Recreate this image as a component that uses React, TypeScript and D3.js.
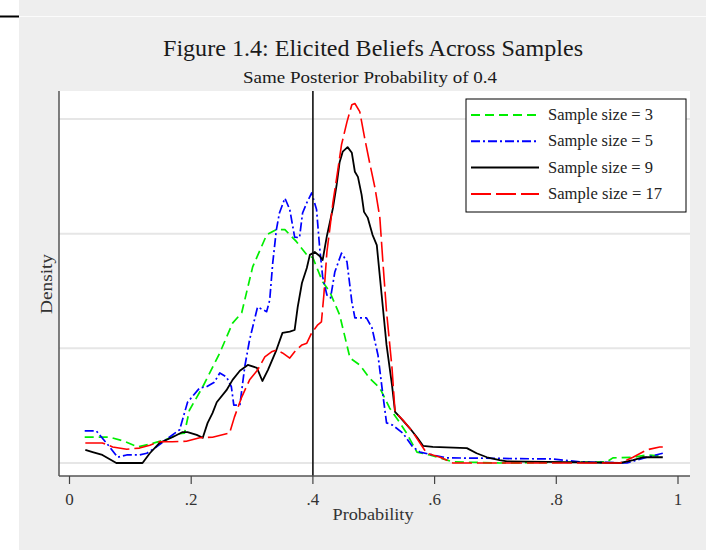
import React from "react";
import * as d3 from "d3";

const W = 706;
const H = 550;

const title = "Figure 1.4: Elicited Beliefs Across Samples";
const subtitle = "Same Posterior Probability of 0.4";
const xLabel = "Probability";
const yLabel = "Density";

const xTicks = [0, 0.2, 0.4, 0.6, 0.8, 1];
const xTickLabels = ["0", ".2", ".4", ".6", ".8", "1"];
const yGrid = [0, 2, 4, 6];
const posterior = 0.4;

const seriesNames = ["Sample size = 3", "Sample size = 5", "Sample size = 9", "Sample size = 17"];

// [probability, density]
const size3: [number, number][] = [
  [0.025, 0.45], [0.066, 0.45], [0.09, 0.38], [0.112, 0.28], [0.132, 0.33], [0.156, 0.4],
  [0.181, 0.51], [0.189, 0.52], [0.197, 0.92], [0.219, 1.33], [0.247, 1.92], [0.268, 2.44],
  [0.283, 2.62], [0.301, 3.42], [0.324, 3.98], [0.34, 4.07], [0.354, 4.07], [0.373, 3.86],
  [0.39, 3.63], [0.4, 3.58], [0.406, 3.42], [0.416, 3.16], [0.428, 2.98], [0.444, 2.58],
  [0.461, 1.83], [0.477, 1.71], [0.493, 1.48], [0.51, 1.31], [0.526, 0.96], [0.543, 0.7],
  [0.554, 0.52], [0.571, 0.19], [0.592, 0.14], [0.63, 0.02], [0.707, 0.0], [0.883, 0.02],
  [0.893, 0.09], [0.926, 0.1], [0.949, 0.14], [0.975, 0.12],
];

const size5: [number, number][] = [
  [0.025, 0.56], [0.044, 0.56], [0.066, 0.28], [0.079, 0.1], [0.094, 0.14], [0.115, 0.14],
  [0.127, 0.17], [0.143, 0.28], [0.164, 0.45], [0.181, 0.58], [0.194, 1.06], [0.214, 1.31],
  [0.225, 1.33], [0.238, 1.41], [0.247, 1.57], [0.258, 1.5], [0.266, 1.33], [0.27, 1.01],
  [0.28, 1.01], [0.288, 1.68], [0.296, 2.15], [0.309, 2.72], [0.324, 2.64], [0.329, 2.84],
  [0.334, 3.49], [0.34, 4.07], [0.345, 4.36], [0.354, 4.62], [0.362, 4.42], [0.37, 3.94],
  [0.378, 3.93], [0.383, 4.36], [0.39, 4.54], [0.398, 4.71], [0.406, 4.42], [0.411, 3.77],
  [0.416, 3.25], [0.423, 2.93], [0.429, 2.88], [0.436, 3.33], [0.447, 3.66], [0.456, 3.51],
  [0.464, 2.81], [0.469, 2.53], [0.488, 2.53], [0.497, 2.36], [0.507, 1.88], [0.515, 1.19],
  [0.521, 0.7], [0.531, 0.66], [0.548, 0.52], [0.564, 0.28], [0.576, 0.19], [0.597, 0.14],
  [0.62, 0.09], [0.794, 0.07], [0.839, 0.02], [0.916, 0.0], [0.949, 0.1], [0.975, 0.17],
];

const size9: [number, number][] = [
  [0.026, 0.23], [0.038, 0.19], [0.054, 0.14], [0.077, 0.0], [0.12, 0.0], [0.132, 0.17],
  [0.148, 0.35], [0.169, 0.45], [0.186, 0.54], [0.194, 0.54], [0.209, 0.49], [0.219, 0.44],
  [0.227, 0.7], [0.235, 0.87], [0.242, 1.06], [0.258, 1.27], [0.268, 1.45], [0.28, 1.61],
  [0.293, 1.71], [0.308, 1.66], [0.317, 1.43], [0.326, 1.62], [0.34, 1.97], [0.35, 2.27],
  [0.362, 2.29], [0.37, 2.32], [0.375, 2.72], [0.382, 3.14], [0.39, 3.4], [0.395, 3.63],
  [0.403, 3.68], [0.411, 3.61], [0.416, 3.54], [0.423, 3.96], [0.433, 4.45], [0.439, 4.85],
  [0.444, 5.25], [0.449, 5.43], [0.457, 5.51], [0.464, 5.41], [0.469, 5.08], [0.474, 4.99],
  [0.48, 4.68], [0.484, 4.38], [0.49, 4.28], [0.498, 3.98], [0.505, 3.8], [0.513, 2.93],
  [0.521, 2.06], [0.53, 1.36], [0.535, 0.89], [0.543, 0.8], [0.559, 0.61], [0.571, 0.45],
  [0.581, 0.3], [0.597, 0.28], [0.653, 0.26], [0.669, 0.17], [0.686, 0.1], [0.707, 0.05],
  [0.719, 0.03], [0.785, 0.02], [0.905, 0.0], [0.926, 0.05], [0.942, 0.1], [0.975, 0.1],
];

const size17: [number, number][] = [
  [0.026, 0.35], [0.054, 0.35], [0.071, 0.28], [0.094, 0.24], [0.115, 0.26], [0.132, 0.31],
  [0.148, 0.37], [0.169, 0.37], [0.192, 0.38], [0.214, 0.44], [0.235, 0.45], [0.258, 0.51],
  [0.263, 0.52], [0.271, 0.8], [0.283, 1.15], [0.296, 1.45], [0.309, 1.62], [0.321, 1.85],
  [0.332, 1.94], [0.34, 1.97], [0.35, 1.92], [0.362, 1.83], [0.37, 1.94], [0.382, 2.06],
  [0.39, 2.09], [0.398, 2.27], [0.408, 2.41], [0.414, 2.46], [0.418, 2.93], [0.423, 3.68],
  [0.428, 4.1], [0.433, 4.55], [0.439, 4.97], [0.447, 5.55], [0.456, 5.95], [0.464, 6.25],
  [0.469, 6.27], [0.477, 6.13], [0.485, 5.67], [0.493, 5.25], [0.502, 4.8], [0.51, 4.28],
  [0.515, 3.51], [0.521, 2.64], [0.53, 1.66], [0.535, 0.89], [0.548, 0.75], [0.564, 0.54],
  [0.587, 0.17], [0.609, 0.1], [0.63, 0.0], [0.905, 0.0], [0.926, 0.1], [0.949, 0.23],
  [0.97, 0.28], [0.975, 0.28],
];

const seriesData = [size3, size5, size9, size17];
const seriesColors = ["#00ee00", "#0000ff", "#000000", "#ff0000"];
const seriesDash = ["9,5", "9,3,2,3", "none", "20,5"];
const seriesWidth = [1.7, 1.7, 1.8, 1.6];
const legendTextLen = [105, 105, 105, 114];

const FONT = "'Liberation Serif', 'Times New Roman', serif";

export default function App() {
  const plotL = 59, plotR = 690, plotT = 91, plotB = 476;
  const x = d3.scaleLinear().domain([0, 1]).range([69.5, 678]);
  const y = d3.scaleLinear().domain([0, 6]).range([463, 119]);
  const line = d3
    .line<[number, number]>()
    .x((d) => x(d[0]))
    .y((d) => y(d[1]))
    .curve(d3.curveLinear);

  const legX = 466, legY = 99, legW = 220, legH = 113;
  const rowY = (i: number) => 115 + i * 26.3;

  return (
    <svg
      width={W}
      height={H}
      style={{ position: "absolute", left: 0, top: 0 }}
      fontFamily={FONT}
    >
      <rect x={0} y={0} width={W} height={H} fill="#ffffff" />
      <rect x={19} y={0} width={W - 19} height={H} fill="#eeeeee" />
      <line x1={19} x2={W} y1={16.5} y2={16.5} stroke="#fbfbfb" strokeWidth={1} />
      <line x1={0} x2={19} y1={16.5} y2={16.5} stroke="#000" strokeWidth={2} />

      <text x={373} y={56} textAnchor="middle" fontSize={24} fill="#1a1a1a"
        textLength={420} lengthAdjust="spacingAndGlyphs">
        {title}
      </text>
      <text x={370} y={83} textAnchor="middle" fontSize={17} fill="#1a1a1a"
        textLength={254} lengthAdjust="spacingAndGlyphs">
        {subtitle}
      </text>

      <rect x={plotL} y={plotT} width={plotR - plotL} height={plotB - plotT} fill="#ffffff" />
      {yGrid.map((g) => (
        <line key={g} x1={plotL} x2={plotR} y1={y(g)} y2={y(g)} stroke="#e6e6e6" strokeWidth={2} />
      ))}

      {seriesData.map((s, i) => (
        <path
          key={i}
          d={line(s) || ""}
          fill="none"
          stroke={seriesColors[i]}
          strokeWidth={seriesWidth[i]}
          strokeDasharray={seriesDash[i] === "none" ? undefined : seriesDash[i]}
          strokeLinejoin="round"
        />
      ))}

      <line x1={x(posterior)} x2={x(posterior)} y1={plotT} y2={plotB} stroke="#111" strokeWidth={1.6} />

      <line x1={plotL} x2={plotL} y1={plotT} y2={plotB} stroke="#555" strokeWidth={1.5} />
      <line x1={plotL} x2={plotR} y1={plotB} y2={plotB} stroke="#555" strokeWidth={1.5} />
      {xTicks.map((t, i) => (
        <g key={t}>
          <line x1={x(t)} x2={x(t)} y1={plotB} y2={plotB + 8} stroke="#444" strokeWidth={1.2} />
          <text x={x(t)} y={505} textAnchor="middle" fontSize={17} fill="#333">
            {xTickLabels[i]}
          </text>
        </g>
      ))}
      <text x={373} y={520} textAnchor="middle" fontSize={17} fill="#333"
        textLength={81} lengthAdjust="spacingAndGlyphs">
        {xLabel}
      </text>
      <text
        transform={`translate(52, 284) rotate(-90)`}
        textAnchor="middle"
        fontSize={17}
        fill="#333"
        textLength={60}
        lengthAdjust="spacingAndGlyphs"
      >
        {yLabel}
      </text>

      <rect x={legX} y={legY} width={legW} height={legH} fill="#ffffff" stroke="#000" strokeWidth={1} />
      {seriesNames.map((n, i) => (
        <g key={n}>
          <line
            x1={471}
            x2={539}
            y1={rowY(i)}
            y2={rowY(i)}
            stroke={seriesColors[i]}
            strokeWidth={2}
            strokeDasharray={seriesDash[i] === "none" ? undefined : seriesDash[i]}
          />
          <text x={548} y={rowY(i) + 5} fontSize={16} fill="#222"
            textLength={legendTextLen[i]} lengthAdjust="spacingAndGlyphs">
            {n}
          </text>
        </g>
      ))}
    </svg>
  );
}
